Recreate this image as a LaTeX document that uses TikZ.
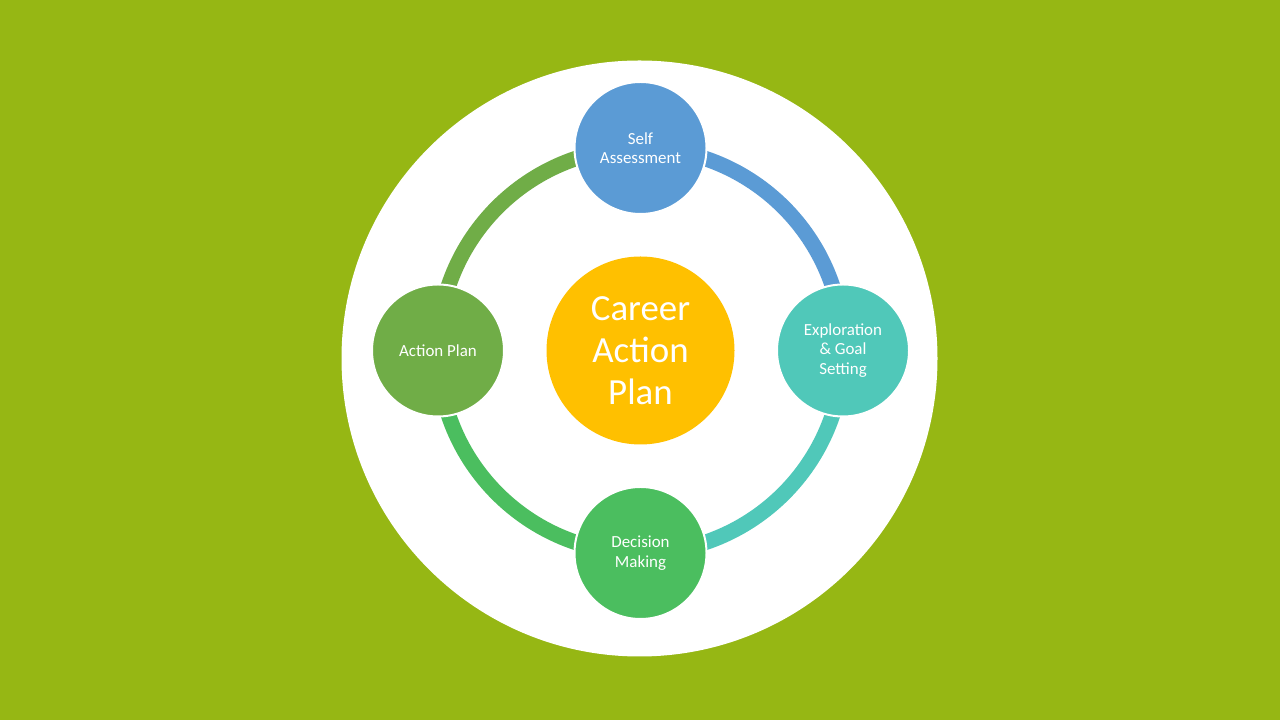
\documentclass[tikz,border=0pt]{standalone}
\usepackage{fontspec}
\setmainfont{Carlito}
\usepackage{tikz,xcolor}
\usetikzlibrary{calc}

\definecolor{bggreen}{HTML}{96B714}
\definecolor{selfblue}{HTML}{5B9BD5}
\definecolor{explteal}{HTML}{50C8B9}
\definecolor{decgreen}{HTML}{4BBE5F}
\definecolor{actgreen}{HTML}{70AD47}
\definecolor{hubyellow}{HTML}{FFC000}

\begin{document}
\begin{tikzpicture}[x=1bp,y=1bp]
  % Background and frame
  \useasboundingbox (0,0) rectangle (1280,720);
  \fill[bggreen] (0,0) rectangle (1280,720);
  \fill[white] (639.5,361.5) circle[radius=298];

  % Define styles
  \tikzset{stage/.style={circle, draw=white, line width=2bp, inner sep=0pt, minimum size=132bp, text=white, align=center, font=\fontsize{17}{19.5}\selectfont}}
  \tikzset{hub/.style={circle, fill=hubyellow, inner sep=0pt, minimum size=188bp, text=white, align=center, font=\fontsize{37}{42}\selectfont}}
  \tikzset{ring/.style={line width=15.5bp}}

  % Centre of the cycle
  \coordinate (O) at (640.5,369.5);

  % Stage positions (radius 202.5)
  \coordinate (pself) at ($(O)+(90:202.5)$);
  \coordinate (pexpl) at ($(O)+(0:202.5)$);
  \coordinate (pdec) at ($(O)+(-90:202.5)$);
  \coordinate (pact) at ($(O)+(180:202.5)$);

  % Draw the ring, one arc per step
  \draw[ring, selfblue] (pself) arc[start angle=90, end angle=0, radius=202.5];
  \draw[ring, explteal] (pexpl) arc[start angle=0, end angle=-90, radius=202.5];
  \draw[ring, decgreen] (pdec) arc[start angle=-90, end angle=-180, radius=202.5];
  \draw[ring, actgreen] (pact) arc[start angle=180, end angle=90, radius=202.5];

  % Draw the stages
  \node[stage, fill=selfblue] (self) at (pself) {Self\\Assessment};
  \node[stage, fill=explteal] (expl) at (pexpl) {Exploration\\\& Goal\\Setting};
  \node[stage, fill=decgreen] (dec) at (pdec) {Decision\\Making};
  \node[stage, fill=actgreen] (act) at (pact) {Action Plan};

  % Centre circle
  \node[hub] (hub) at (O) {Career\\Action\\Plan};
\end{tikzpicture}
\end{document}
